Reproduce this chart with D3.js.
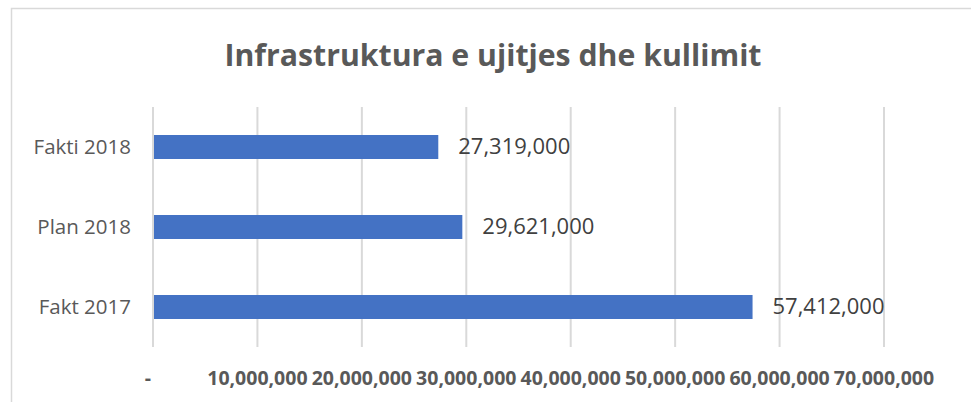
<!DOCTYPE html>
<html>
<head>
<meta charset="utf-8">
<script src="https://cdn.jsdelivr.net/npm/d3@7"></script>
<style>
  body { margin: 0; background: #fff; }
  text { font-family: "Open Sans", "Noto Sans", sans-serif; }
</style>
</head>
<body>
<div class="chart-container"></div>
<script>
const categories = ["Fakti 2018", "Plan 2018", "Fakt 2017"];
const values = [27319000, 29621000, 57412000];
const tickValues = [0, 10000000, 20000000, 30000000, 40000000, 50000000, 60000000, 70000000];
const title = "Infrastruktura e ujitjes dhe kullimit";

const width = 971, height = 402;

const svg = d3.select(".chart-container").append("svg")
    .attr("width", width)
    .attr("height", height);

// chart frame (right and bottom edges cropped off)
svg.append("rect")
    .attr("x", 11.5)
    .attr("y", 8.5)
    .attr("width", 980)
    .attr("height", 420)
    .attr("fill", "#fff")
    .attr("stroke", "#d9d9d9")
    .attr("stroke-width", 1.5);

const x = d3.scaleLinear().domain([0, 70000000]).range([153, 884]);
const y = d3.scaleBand().domain(categories).range([107, 347])
    .paddingInner(0.7).paddingOuter(0.35);

const fmt = d3.format(",");

// gridlines
svg.append("g")
    .selectAll("line")
    .data(tickValues)
  .enter().append("line")
    .attr("x1", (d) => x(d))
    .attr("x2", (d) => x(d))
    .attr("y1", 107)
    .attr("y2", 347)
    .attr("stroke", "#d9d9d9")
    .attr("stroke-width", 2);

// bars
svg.append("g")
    .selectAll("rect")
    .data(values)
  .enter().append("rect")
    .attr("x", x(0) + 1)
    .attr("y", (d, i) => y(categories[i]))
    .attr("width", (d) => x(d) - x(0) - 1)
    .attr("height", y.bandwidth())
    .attr("fill", "#4472c4");

// value labels
svg.append("g")
    .selectAll("text")
    .data(values)
  .enter().append("text")
    .attr("x", (d) => x(d) + 20)
    .attr("y", (d, i) => y(categories[i]) + y.bandwidth() / 2)
    .attr("dy", "0.35em")
    .attr("fill", "#404040")
    .style("font-size", "21px")
    .attr("textLength", 112)
    .attr("lengthAdjust", "spacingAndGlyphs")
    .text((d) => fmt(d));

// category axis
svg.append("g")
    .selectAll("text")
    .data(categories)
  .enter().append("text")
    .attr("x", 131)
    .attr("y", (d) => y(d) + y.bandwidth() / 2)
    .attr("dy", "0.35em")
    .attr("text-anchor", "end")
    .attr("fill", "#595959")
    .style("font-size", "20.5px")
    .text((d) => d);

// value axis
svg.append("g")
    .selectAll("text")
    .data(tickValues)
  .enter().append("text")
    .attr("x", (d) => d === 0 ? x(d) - 5 : x(d))
    .attr("y", 378)
    .attr("dy", "0.35em")
    .attr("text-anchor", "middle")
    .attr("fill", "#595959")
    .style("font-size", "19.5px")
    .style("font-weight", "bold")
    .text((d) => d === 0 ? "-" : fmt(d));

// title
svg.append("text")
    .attr("x", 493)
    .attr("y", 55)
    .attr("dy", "0.35em")
    .attr("text-anchor", "middle")
    .attr("fill", "#595959")
    .style("font-size", "30px")
    .style("font-weight", "bold")
    .attr("textLength", 537)
    .attr("lengthAdjust", "spacingAndGlyphs")
    .text(title);
</script>
</body>
</html>
